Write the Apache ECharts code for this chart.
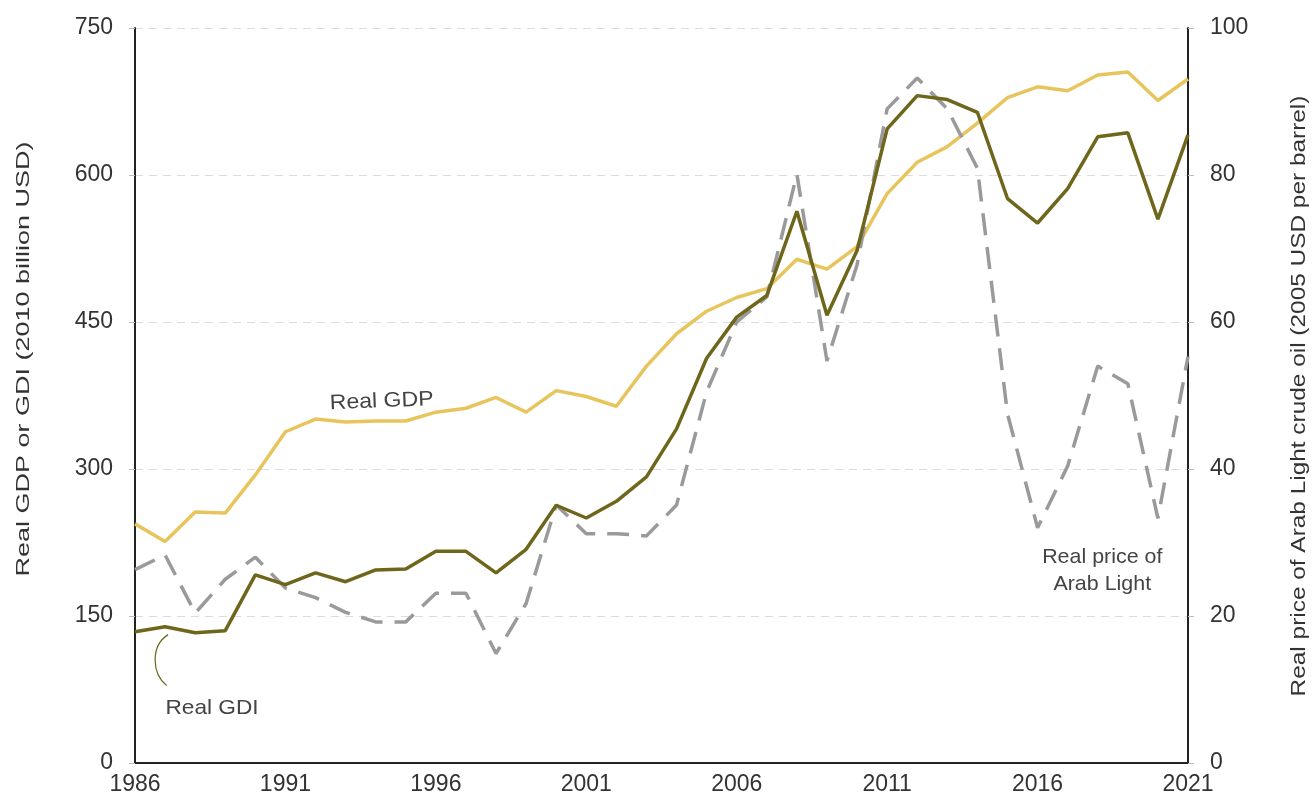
<!DOCTYPE html>
<html><head><meta charset="utf-8">
<script src="https://cdn.jsdelivr.net/npm/echarts@6/dist/echarts.min.js"></script>
<style>html,body{margin:0;padding:0;background:#fff}#c{width:1315px;height:799px}</style>
</head><body><div id="c"></div>
<script>
const years = [1986,1987,1988,1989,1990,1991,1992,1993,1994,1995,1996,1997,1998,1999,2000,2001,2002,2003,2004,2005,2006,2007,2008,2009,2010,2011,2012,2013,2014,2015,2016,2017,2018,2019,2020,2021];
const realGDP = [244,226,256,255,294,338,351,348,349,349,358,362,373,358,380,374,364,405,438,461,475,484,514,504,527,581,613,629,653,679,690,686,702,705,676,698];
const realGDI = [134,139,133,135,192,182,194,185,197,198,216,216,194,218,263,250,267,292,341,413,455,477,563,457,523,647,681,677,664,576,551,586,639,643,555,641];
const oilPrice = [26.3,28.3,20.4,25.0,28.0,23.8,22.5,20.5,19.2,19.2,23.1,23.1,14.9,21.7,35.1,31.2,31.2,30.9,35.1,50.5,60.0,63.4,80.1,54.7,67.8,89.0,93.2,89.0,80.9,47.5,32.0,40.4,54.0,51.6,33.3,55.3];
const leftTicks = {min:0,max:750,interval:150};
const rightTicks = {min:0,max:100,interval:20};
const xTicks = {min:1986,max:2021,interval:5};
const leftTitle = 'Real GDP or GDI (2010 billion USD)';
const rightTitle = 'Real price of Arab Light crude oil (2005 USD per barrel)';

const font = '"Liberation Sans", Arial, sans-serif';
const zip = a => years.map((y,i)=>[y,a[i]]);
const chart = echarts.init(document.getElementById('c'));
chart.setOption({
  animation:false,
  backgroundColor:'#fff',
  grid:{left:135,right:127,top:28,bottom:36,containLabel:false},
  xAxis:{type:'value',min:xTicks.min,max:xTicks.max,interval:xTicks.interval,
    axisLine:{show:true,lineStyle:{color:'#222',width:2}},
    axisTick:{show:false},splitLine:{show:false},
    axisLabel:{color:'#333',fontSize:23,fontFamily:font,margin:10,formatter:v=>String(v)}},
  yAxis:[
    {type:'value',min:leftTicks.min,max:leftTicks.max,interval:leftTicks.interval,position:'left',
     axisLine:{show:true,lineStyle:{color:'#222',width:2}},
     axisTick:{show:true,length:6,lineStyle:{color:'#bbb'}},
     axisLabel:{color:'#333',fontSize:23,fontFamily:font,margin:22},
     splitLine:{show:true,lineStyle:{color:'#ddd',type:[8,6],width:1}}},
    {type:'value',min:rightTicks.min,max:rightTicks.max,interval:rightTicks.interval,position:'right',
     axisLine:{show:true,lineStyle:{color:'#222',width:2}},
     axisTick:{show:true,length:6,lineStyle:{color:'#bbb'}},
     axisLabel:{color:'#333',fontSize:23,fontFamily:font,margin:22},
     splitLine:{show:false}}
  ],
  series:[
    {name:'Real GDP',type:'line',yAxisIndex:0,data:zip(realGDP),showSymbol:false,
     lineStyle:{color:'#E8C55C',width:3.5},z:2},
    {name:'Real price of Arab Light',type:'line',yAxisIndex:1,data:zip(oilPrice),showSymbol:false,
     lineStyle:{color:'#9A9A9C',width:3.5,type:[22,12]},z:3},
    {name:'Real GDI',type:'line',yAxisIndex:0,data:zip(realGDI),showSymbol:false,
     lineStyle:{color:'#6D661B',width:3.5},z:4}
  ]
});
function P(x,y,idx){return chart.convertToPixel({xAxisIndex:0,yAxisIndex:idx||0},[x,y]);}
const gdpL = P(1994.2,369), gdiL = P(1988.56,56), oilL = P(2018.15,29.8,1);
const a0 = P(1987.1,131), a1 = P(1986.7,105), a2 = P(1987.05,79);
const tf = '21px '+font;
chart.setOption({graphic:[
  {type:'text',x:24,y:359,rotation:Math.PI/2,scaleX:1.5,style:{text:leftTitle,fill:'#333',font:'18px '+font,textAlign:'center',textVerticalAlign:'middle'}},
  {type:'text',x:1299,y:396,rotation:Math.PI/2,scaleX:1.22,style:{text:rightTitle,fill:'#333',font:'20px '+font,textAlign:'center',textVerticalAlign:'middle'}},
  {type:'text',x:gdpL[0],y:gdpL[1],rotation:0.04,scaleX:1.1,style:{text:'Real GDP',fill:'#444',font:tf,textAlign:'center',textVerticalAlign:'middle'}},
  {type:'text',x:gdiL[0],y:gdiL[1],scaleX:1.08,style:{text:'Real GDI',fill:'#444',font:tf,textAlign:'center',textVerticalAlign:'middle'}},
  {type:'text',x:oilL[0],y:oilL[1],scaleX:1.02,style:{text:'Real price of\nArab Light',fill:'#444',font:tf,textAlign:'center',textVerticalAlign:'top',lineHeight:27}},
  {type:'bezierCurve',shape:{x1:a0[0],y1:a0[1],cpx1:a1[0]-6,cpy1:a1[1]-14,cpx2:a1[0]-4,cpy2:a1[1]+14,x2:a2[0],y2:a2[1]},
   style:{stroke:'#6D661B',lineWidth:1.2,fill:null}}
]});
</script></body></html>
